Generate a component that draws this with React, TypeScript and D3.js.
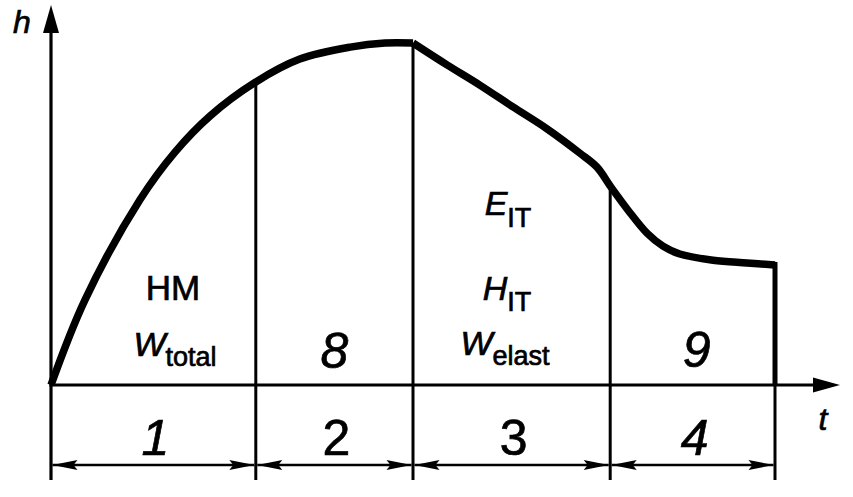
import { curveCatmullRom, line, scaleLinear } from "d3";

const W = 853;
const H = 497;

// indentation curve h(t) (t and h in 0..100 units)
// loading branch, up to the end of the hold
const loadT = [0, 4.25, 11.1, 15.5, 19.9, 25.6, 31.1, 37.4, 41.75, 45.25];
const loadH = [0, 24.9, 54.1, 68.1, 78.7, 88.6, 95.3, 98.8, 100, 100];
// unloading branch, from the end of the hold
const unloadT = [45.25, 49.5, 53.6, 57.75, 62.0, 66.1, 68.25, 69.9, 72.4, 74.5, 76.5, 78.6, 82.75, 87.0, 90.5];
const unloadH = [100, 93.6, 87.7, 81.3, 74.9, 67.8, 63.7, 58.2, 50.3, 44.4, 40.6, 38.3, 36.5, 35.7, 35.1];

// phase boundaries on the t axis
const boundaries = [0, 25.6, 45.25, 69.9, 90.5];
const phaseLabels = ["1", "2", "3", "4"];
const phaseItalic = [true, false, false, true];

const FONT = "'Liberation Sans', Arial, Helvetica, sans-serif";

const x = scaleLinear().domain([0, 100]).range([51, 851]);
const y = scaleLinear().domain([0, 100]).range([385, 43]);

const AXIS_Y = y(0);
const TICK_BOTTOM = 480;
const DIM_Y = 465;

type P = { t: number; h: number };
const loadPts: P[] = loadT.map((t, i) => ({ t, h: loadH[i] }));
const unloadPts: P[] = unloadT.map((t, i) => ({ t, h: unloadH[i] }));
const allPts = [...loadPts, ...unloadPts];

function topAt(t: number) {
  const p = allPts.find((d) => Math.abs(d.t - t) < 1e-6);
  return p ? y(p.h) : AXIS_Y;
}

const TEXT_INK = { fill: "#000", stroke: "#000", strokeWidth: 0.7 };

function Sub({
  cx,
  base,
  main,
  sub,
  dy = 11,
}: {
  cx: number;
  base: number;
  main: string;
  sub: string;
  dy?: number;
}) {
  return (
    <text x={cx} y={base} textAnchor="middle" fontFamily={FONT} fontSize={34} {...TEXT_INK}>
      <tspan fontStyle="italic">{main}</tspan>
      <tspan fontSize={27} dy={dy}>
        {sub}
      </tspan>
    </text>
  );
}

export default function App() {
  const mk = (pts: P[]) =>
    line<P>()
      .x((d) => x(d.t))
      .y((d) => y(d.h))
      .curve(curveCatmullRom.alpha(0.5))(pts) ?? "";

  const last = unloadPts[unloadPts.length - 1];
  const arrowLen = 25;
  const arrowHalf = 5;

  return (
    <div style={{ position: "absolute", left: 0, top: 0, background: "#fff" }}>
      <svg width={W} height={H} viewBox={`0 0 ${W} ${H}`}>
        <rect width={W} height={H} fill="#fff" />

        {/* axes */}
        <line x1={x(0)} x2={x(0)} y1={TICK_BOTTOM} y2={30} stroke="#000" strokeWidth={3.2} />
        <path d={`M${x(0)},5 L${x(0) - 8},33 L${x(0) + 8},33 Z`} fill="#000" />
        <line x1={x(0) - 1.5} x2={815} y1={AXIS_Y} y2={AXIS_Y} stroke="#000" strokeWidth={3} />
        <path d={`M840,${AXIS_Y} L813,${AXIS_Y - 7.5} L813,${AXIS_Y + 7.5} Z`} fill="#000" />

        {/* phase boundaries */}
        {boundaries.slice(1).map((b) => (
          <line
            key={`b${b}`}
            x1={x(b)}
            x2={x(b)}
            y1={topAt(b)}
            y2={TICK_BOTTOM}
            stroke="#000"
            strokeWidth={3}
          />
        ))}

        {/* dimension arrows */}
        {phaseLabels.map((lab, i) => {
          const a = x(boundaries[i]) + 1.5;
          const b = x(boundaries[i + 1]) - 1.5;
          return (
            <g key={`d${lab}`}>
              <line x1={a} x2={b} y1={DIM_Y} y2={DIM_Y} stroke="#000" strokeWidth={2.6} />
              <path
                d={`M${a},${DIM_Y} L${a + arrowLen},${DIM_Y - arrowHalf} L${a + arrowLen - 4},${DIM_Y} L${a + arrowLen},${DIM_Y + arrowHalf} Z`}
                fill="#000"
              />
              <path
                d={`M${b},${DIM_Y} L${b - arrowLen},${DIM_Y - arrowHalf} L${b - arrowLen + 4},${DIM_Y} L${b - arrowLen},${DIM_Y + arrowHalf} Z`}
                fill="#000"
              />
              <text
                x={(a + b) / 2 + 2}
                y={455}
                textAnchor="middle"
                fontFamily={FONT}
                fontSize={50}
                fontStyle={phaseItalic[i] ? "italic" : "normal"}
                {...TEXT_INK}
              >
                {lab}
              </text>
            </g>
          );
        })}

        {/* curve */}
        <path d={mk(loadPts)} fill="none" stroke="#000" strokeWidth={7.5} strokeLinejoin="round" />
        <path d={mk(unloadPts)} fill="none" stroke="#000" strokeWidth={7.5} strokeLinejoin="round" />
        <line
          x1={x(last.t)}
          x2={x(last.t)}
          y1={y(last.h) - 3}
          y2={AXIS_Y}
          stroke="#000"
          strokeWidth={5}
        />

        {/* axis titles */}
        <text x={22} y={33} textAnchor="middle" fontFamily={FONT} fontSize={32} fontStyle="italic" {...TEXT_INK}>
          h
        </text>
        <text x={823} y={430} textAnchor="middle" fontFamily={FONT} fontSize={32} fontStyle="italic" {...TEXT_INK}>
          t
        </text>

        {/* phase annotations */}
        <text x={173} y={300} textAnchor="middle" fontFamily={FONT} fontSize={35} {...TEXT_INK}>
          HM
        </text>
        <Sub cx={175} base={356} main="W" sub="total" dy={10} />
        <text
          x={(x(boundaries[1]) + x(boundaries[2])) / 2}
          y={368}
          textAnchor="middle"
          fontFamily={FONT}
          fontSize={50}
          fontStyle="italic"
          {...TEXT_INK}
        >
          8
        </text>
        <Sub cx={508} base={215} main="E" sub="IT" dy={12} />
        <Sub cx={507} base={300} main="H" sub="IT" dy={11} />
        <Sub cx={505} base={355} main="W" sub="elast" dy={10} />
        <text
          x={(x(boundaries[3]) + x(boundaries[4])) / 2 + 4}
          y={367}
          textAnchor="middle"
          fontFamily={FONT}
          fontSize={50}
          fontStyle="italic"
          {...TEXT_INK}
        >
          9
        </text>
      </svg>
    </div>
  );
}
